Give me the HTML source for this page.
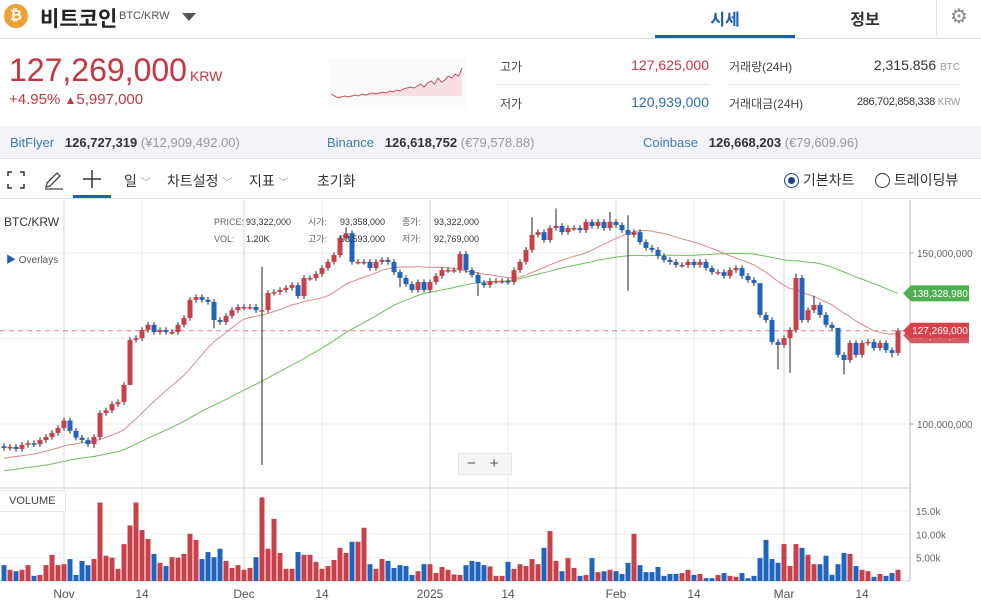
<!DOCTYPE html>
<html><head><meta charset="utf-8">
<style>
*{margin:0;padding:0;box-sizing:border-box}
body{width:981px;height:608px;overflow:hidden;background:#fff;font-family:"Liberation Sans","Noto Sans CJK KR",sans-serif;color:#333;position:relative}
.a{position:absolute;white-space:nowrap}
</style></head><body>
<div class="a" style="left:4px;top:4px;width:24px;height:24px;border-radius:50%;background:#f0a030;color:#fff;font-weight:bold;font-size:15px;text-align:center;line-height:24px">₿</div>
<div class="a" style="left:40px;top:3px;font-size:21px;font-weight:bold;color:#222">비트코인</div>
<div class="a" style="left:119px;top:10px;font-size:11px;color:#555">BTC/KRW</div>
<div class="a" style="left:182px;top:13px;width:0;height:0;border-left:7px solid transparent;border-right:7px solid transparent;border-top:8px solid #555"></div>
<div class="a" style="left:655px;top:6px;width:140px;text-align:center;font-size:16px;font-weight:bold;color:#1a5fb4">시세</div>
<div class="a" style="left:655px;top:35px;width:140px;height:3px;background:#1a5fb4"></div>
<div class="a" style="left:795px;top:6px;width:140px;text-align:center;font-size:16px;font-weight:bold;color:#333">정보</div>
<div class="a" style="left:936px;top:0;width:45px;height:38px;border-left:1px solid #e3e3e3;text-align:center;line-height:34px;font-size:20px;color:#888">⚙</div>
<div class="a" style="left:0;top:38px;width:981px;height:1px;background:#dde0e4"></div>

<div class="a" style="left:9px;top:52px;font-size:32px;color:#c8343f">127,269,000<span style="font-size:14px;margin-left:3px">KRW</span></div>
<div class="a" style="left:9px;top:91px;font-size:15px;color:#c8343f">+4.95% <span style="font-size:12px">▲</span>5,997,000</div>
<svg class="a" style="left:329px;top:58px" width="137" height="50" id="spark"></svg>

<div class="a" style="left:500px;top:58px;font-size:12px;color:#444">고가</div>
<div class="a" style="left:600px;top:57px;width:109px;text-align:right;font-size:14px;color:#c8343f">127,625,000</div>
<div class="a" style="left:729px;top:58px;font-size:12px;color:#444">거래량(24H)</div>
<div class="a" style="left:820px;top:57px;width:140px;text-align:right;font-size:14px;color:#333">2,315.856 <span style="font-size:10px;color:#999">BTC</span></div>
<div class="a" style="left:496px;top:84px;width:214px;height:1px;background:#e6e6e6"></div>
<div class="a" style="left:728px;top:84px;width:232px;height:1px;background:#e6e6e6"></div>
<div class="a" style="left:500px;top:95px;font-size:12px;color:#444">저가</div>
<div class="a" style="left:600px;top:94px;width:109px;text-align:right;font-size:14px;color:#2a6fb0">120,939,000</div>
<div class="a" style="left:729px;top:95px;font-size:12px;color:#444">거래대금(24H)</div>
<div class="a" style="left:800px;top:96px;width:160px;text-align:right;font-size:11px;color:#333;letter-spacing:-0.3px">286,702,858,338 <span style="font-size:10px;color:#999">KRW</span></div>

<div class="a" style="left:0;top:126px;width:981px;height:33px;background:#f2f4f7;border-bottom:1px solid #e0e3e7;font-size:13px;line-height:33px">
<span class="a" style="left:10px"><span style="color:#3d7ab8">BitFlyer</span>&nbsp;&nbsp; <b style="color:#333">126,727,319</b> <span style="color:#999">(¥12,909,492.00)</span></span>
<span class="a" style="left:327px"><span style="color:#3d7ab8">Binance</span>&nbsp;&nbsp; <b style="color:#333">126,618,752</b> <span style="color:#999">(€79,578.88)</span></span>
<span class="a" style="left:643px"><span style="color:#3d7ab8">Coinbase</span>&nbsp;&nbsp; <b style="color:#333">126,668,203</b> <span style="color:#999">(€79,609.96)</span></span>
</div>

<div class="a" style="left:0;top:160px;width:981px;height:39px;border-bottom:1px solid #e3e3e3"></div>
<svg class="a" style="left:7px;top:171px" width="18" height="18"><path d="M1 5V1H5M13 1H17V5M17 13V17H13M5 17H1V13" stroke="#333" stroke-width="1.5" fill="none"/></svg>
<svg class="a" style="left:44px;top:170px" width="20" height="20"><path d="M2 17L3 13L13 3L16 6L6 16Z M1 19H19" stroke="#444" stroke-width="1.3" fill="none"/></svg>
<svg class="a" style="left:82px;top:169px" width="20" height="20"><path d="M10 1V19M1 10H19" stroke="#333" stroke-width="1.5"/></svg>
<div class="a" style="left:73px;top:195px;width:38px;height:3px;background:#1a5fb4"></div>
<div class="a" style="left:124px;top:171px;font-size:14px">일 <span style="color:#999;font-size:10px">﹀</span></div>
<div class="a" style="left:167px;top:171px;font-size:14px">차트설정 <span style="color:#999;font-size:10px">﹀</span></div>
<div class="a" style="left:249px;top:171px;font-size:14px">지표 <span style="color:#999;font-size:10px">﹀</span></div>
<div class="a" style="left:317px;top:171px;font-size:14px">초기화</div>
<div class="a" style="left:784px;top:170px;font-size:14px"><span style="display:inline-block;width:15px;height:15px;border:1.5px solid #1a3f8a;border-radius:50%;vertical-align:-3px;position:relative"><span style="position:absolute;left:2.5px;top:2.5px;width:7px;height:7px;border-radius:50%;background:#1a3f8a"></span></span> 기본차트</div>
<div class="a" style="left:875px;top:170px;font-size:14px"><span style="display:inline-block;width:15px;height:15px;border:1.5px solid #333;border-radius:50%;vertical-align:-3px"></span> 트레이딩뷰</div>

<svg class="a" id="chart" style="left:0;top:200px" width="981" height="408"></svg>

<div class="a" style="left:4px;top:215px;font-size:12px;color:#333">BTC/KRW</div>
<div class="a" style="left:6px;top:251px;font-size:10px;color:#555"><span style="color:#1a5fb4">▶</span> Overlays</div>
<div class="a" style="left:214px;top:214px;font-size:9px;color:#666;line-height:17px">
<span style="display:inline-block;width:32px">PRICE:</span><span style="display:inline-block;width:62px;color:#333">93,322,000</span><span style="display:inline-block;width:32px">시가:</span><span style="display:inline-block;width:62px;color:#333">93,358,000</span><span style="display:inline-block;width:32px">종가:</span><span style="color:#333">93,322,000</span><br>
<span style="display:inline-block;width:32px">VOL:</span><span style="display:inline-block;width:62px;color:#333">1.20K</span><span style="display:inline-block;width:32px">고가:</span><span style="display:inline-block;width:62px;color:#333">93,593,000</span><span style="display:inline-block;width:32px">저가:</span><span style="color:#333">92,769,000</span></div>
<div class="a" style="left:458px;top:453px;width:54px;height:22px;background:#f5f5f5;border:1px solid #e6e6e6;font-size:15px;color:#555;line-height:20px"><span style="margin-left:8px">−</span><span style="margin-left:14px">+</span></div>
<div class="a" style="left:0;top:490px;width:66px;height:22px;border:1px solid #e6e6e6;border-left:none;background:#fff;font-size:11px;line-height:20px;padding-left:9px;color:#444">VOLUME</div>

<script>
const priorCloses=[79,80,81,80,82,83,84,83,82,81,80,79,80,82,84,85,86,85,86,87,86,85,84,85,86,87,88,87,86,85,86,87,88,89,90,89,88,87,88,89,90,91,90,89,90,91,92,93,92,93];
const closes=[93.0,93.3,92.7,93.9,94.4,94.1,95.3,96.2,97.4,98.8,101,98,96,95.3,94.1,96.2,103.2,104,105.8,106.4,
111.4,124.6,125.1,127.5,129,126.9,127.5,126.9,126.9,129,131,136.3,137.1,136.3,135.7,130.4,129.8,131.6,133.3,134.2,
134.2,134.2,133.3,133.3,138.3,138.6,139.2,139.8,140.6,137.4,142.7,142.7,143.9,145.6,147.4,149.4,154.4,155.8,147.4,147.4,
147.4,145.6,147.4,148,147.4,144.4,142.7,140.9,139.2,141.5,139.2,141.5,143.3,145,145,145,149.7,145,143.6,141.2,
140.6,141.8,141.8,141.8,141.5,145,147.4,150.9,155.3,156.1,153.8,157.3,157.9,156.1,157.3,157.3,156.7,159.1,157.9,159.1,
157.3,159.1,158.2,156.7,155.3,156.1,153.2,151.5,150.9,149.1,148,147.4,146.5,146.5,147.4,146.5,147.4,145.6,144.4,144.4,
143.3,145,145.6,143.3,142.1,141.2,131.9,130.4,124,123.1,125.1,127.5,142.7,130.4,133.3,134.8,131.9,129,128.1,120.2,
118.7,123.7,120.2,123.7,124,122.2,123.7,121.6,120.8,127.3];
const volumes=[3.4,2.4,2.1,2.4,3.4,1.1,1.3,3.4,5.6,3.4,3.6,4.7,1.3,4.3,3.4,4.7,16.8,5.4,5.0,2.6,
7.9,11.9,16.8,10.9,9.0,5.8,3.9,3.2,5.1,5.0,5.8,10.1,8.8,4.7,6.2,5.1,6.9,4.3,2.8,3.4,
2.4,2.8,5.1,17.9,6.9,13.3,6.0,2.6,2.6,6.2,5.6,5.6,4.1,2.6,3.2,4.5,7.1,6.0,8.4,8.4,
11.4,3.6,2.6,4.7,4.3,2.8,3.4,3.2,1.3,2.1,3.6,3.6,1.7,3.0,2.4,
1.4,1.3,3.4,4.3,4.1,3.4,3.1,1.1,1.1,4.1,2.6,3.6,3.2,4.7,3.6,7.1,10.7,4.3,2.1,4.9,
2.8,1.1,1.3,4.9,1.9,2.1,2.4,2.1,1.5,3.9,10.1,3.4,1.9,1.9,3.0,1.1,1.5,1.5,1.7,2.4,
1.3,1.5,0.6,0.6,1.3,1.7,1.1,0.9,1.7,0.6,1.1,4.9,8.8,4.7,3.9,7.9,3.2,7.9,7.1,5.6,
3.6,3.6,5.4,1.3,3.6,6.0,5.8,3.2,2.4,2.1,0.9,1.5,1.1,1.7,2.4];
const wickHighIdx=[43,57,88,92,101,104,126,132,135,139,149];
const wickHighVal=[146,157.5,160.5,163,162,161,133,144,137.5,124,128];
const wickLowIdx=[43,15,21,35,66,70,79,104,129,131,140,148];
const wickLowVal=[88,93,120,128,140,138.5,137.5,139,116,115,114.5,119.5];
const xTickIdx=[10,23,40,53,71,84,102,115,130,143];
const xTickLabels=["Nov","14","Dec","14","2025","14","Feb","14","Mar","14"];
const priceTicks=[150,100];
const priceTickLabels=["150,000,000","100,000,000"];
const volTicks=[15,10,5];
const volTickLabels=["15.0k","10.00k","5.00k"];
const lastPrice=127.269;
const sparkVals=[28,30,32,31,30,31,30,29,30,28,29,28,27,28,27,26,27,25,26,24,25,23,22,21,22,20,18,21,17,15,18,12,16,14,10,12,8,10,2];

const NS="http://www.w3.org/2000/svg";
const svg=document.getElementById('chart');
const OY=200;
function xS(i){return 4+6*i;}
function yP(v){return 253-OY+(150-v)*3.42;}
function yV(v){return 581-OY-v*4.67;}
function mk(tag,attrs,parent){const e=document.createElementNS(NS,tag);for(const k in attrs)e.setAttribute(k,attrs[k]);(parent||svg).appendChild(e);return e;}

[100,125,150].forEach(v=>{const l=mk('line',{x1:0,x2:910,y1:yP(v),y2:yP(v),stroke:'#ececec'});

});
[5,10,15].forEach(v=>{const l=mk('line',{x1:0,x2:910,y1:yV(v),y2:yV(v),stroke:'#f0f0f0'});

});
xTickIdx.forEach((ix,k)=>{const major=(xTickLabels[k]!=="14");const l=mk('line',{x1:xS(ix),x2:xS(ix),y1:0,y2:381,stroke:major?'#d6d6d6':'#ececec'});


const t=mk('text',{x:xS(ix),y:398,'text-anchor':'middle','font-size':12,fill:'#555'});t.textContent=xTickLabels[k];

});
let l0=mk('line',{x1:0,x2:910,y1:288,y2:288,stroke:'#cfcfcf'});


let l1=mk('line',{x1:910,x2:910,y1:0,y2:381,stroke:'#bbb'});


let l2=mk('line',{x1:0,x2:910,y1:381,y2:381,stroke:'#ccc'});


priceTicks.forEach((v,k)=>{const t=mk('text',{x:917,y:yP(v)+4,'font-size':10,fill:'#666'});t.textContent=priceTickLabels[k];


mk('line',{x1:910,x2:914,y1:yP(v),y2:yP(v),stroke:'#aaa'});});
volTicks.forEach((v,k)=>{const t=mk('text',{x:916,y:yV(v)+4,'font-size':10,fill:'#666'});t.textContent=volTickLabels[k];

});

let dl=mk('line',{x1:0,x2:910,y1:yP(lastPrice),y2:yP(lastPrice),stroke:'#e08080','stroke-dasharray':'5,4'});



const all=priorCloses.concat(closes);
function ma(n){const out=[];for(let i=0;i<closes.length;i++){const j=i+priorCloses.length;let s=0;for(let k=j-n+1;k<=j;k++)s+=all[k];out.push(s/n);}return out;}
const ma20=ma(20),ma50=ma(50);
function drawLine(arr,color,name){let d='';arr.forEach((v,i)=>{d+=(i?'L':'M')+xS(i)+' '+yP(v).toFixed(1);});const p=mk('path',{d:d,stroke:color,fill:'none','stroke-width':1});

}
drawLine(ma50,'#6cbf5c','ma50-line');
drawLine(ma20,'#d88b86','ma20-line');

closes.forEach((c,i)=>{
  const o=i?closes[i-1]:93.5;
  const up=c>=o;const col=up?'#c8404a':'#1f65c0';
  let hi=Math.max(o,c)+0.8,lo=Math.min(o,c)-0.8;
  const hk=wickHighIdx.indexOf(i);if(hk>=0)hi=wickHighVal[hk];
  const lk=wickLowIdx.indexOf(i);if(lk>=0)lo=wickLowVal[lk];
  const x=xS(i);
  const w=mk('line',{x1:x,x2:x,y1:yP(hi),y2:yP(lo),stroke:'#222','stroke-width':1});
  
  
  const top=yP(Math.max(o,c)),bot=yP(Math.min(o,c));
  const b=mk('rect',{x:x-2.5,y:top,width:5,height:Math.max(1.5,bot-top),fill:col});
  
  
  const v=volumes[i];
  const vb=mk('rect',{x:x-2.5,y:yV(v),width:5,height:yV(0)-yV(v),fill:up?'#c8404a':'#1f65c0'});
  
  
});

function tag(v,color,text,name){const y=yP(v);const g=mk('g',{});


mk('path',{d:`M903 ${y} L911 ${y-8} H969 V${y+8} H911 Z`,fill:color},g);
const t=mk('text',{x:940,y:y+3.5,'text-anchor':'middle','font-size':10,fill:'#fff'},g);t.textContent=text;}
tag(ma20[ma20.length-1]-0.5,'#d45a62','124,919,207','ma20-tag');
tag(lastPrice,'#d9424c','127,269,000','last-price-tag');
tag(ma50[ma50.length-1],'#4caf50','138,328,980','ma50-tag');

const sp=document.getElementById('spark');
const fillRect=document.createElementNS(NS,'rect');
fillRect.setAttribute('x',0);fillRect.setAttribute('y',0);fillRect.setAttribute('width',137);fillRect.setAttribute('height',50);fillRect.setAttribute('fill','#fafafc');
sp.appendChild(fillRect);
let sd='';sparkVals.forEach((v,i)=>{sd+=(i?'L':'M')+(2+i*3.45).toFixed(1)+' '+(v+8);});
const sa=document.createElementNS(NS,'path');sa.setAttribute('d',sd+' L133 38 L2 38 Z');sa.setAttribute('fill','#f8dfe2');sp.appendChild(sa);
const sl=document.createElementNS(NS,'path');sl.setAttribute('d',sd);sl.setAttribute('fill','none');sl.setAttribute('stroke','#c8505a');sl.setAttribute('stroke-width','1');sp.appendChild(sl);


</script>
</body></html>
